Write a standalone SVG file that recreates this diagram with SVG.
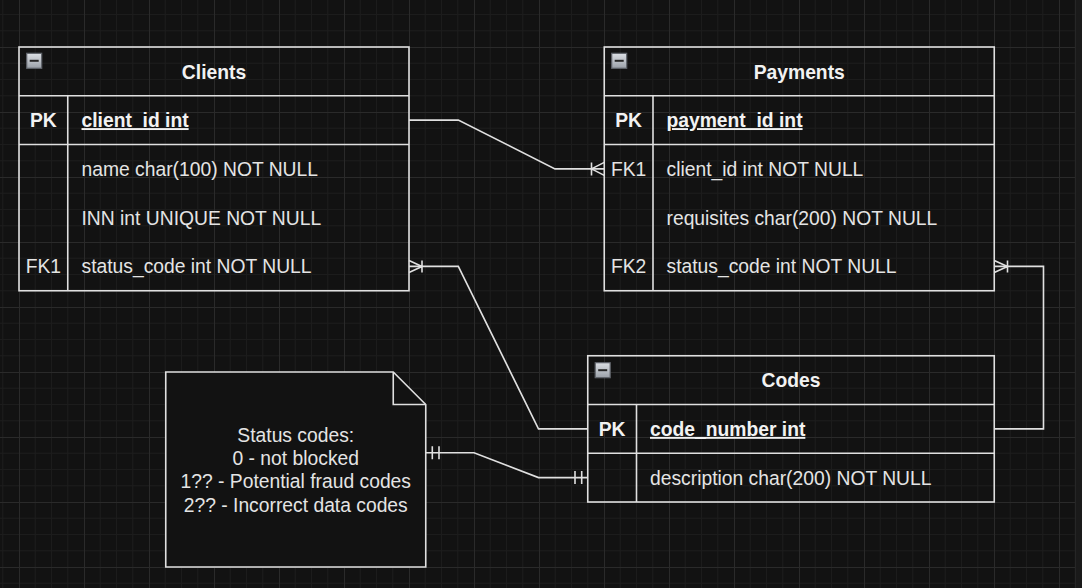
<svg xmlns="http://www.w3.org/2000/svg" width="1082" height="588" viewBox="0 0 1082 588">
<defs>
<pattern id="grid" patternUnits="userSpaceOnUse" x="19" y="47" width="65" height="65">
<rect width="65" height="65" fill="#121212"/>
<path d="M16.25,0V65M32.5,0V65M48.75,0V65M0,16.25H65M0,32.5H65M0,48.75H65" stroke="#1c1c1c" stroke-width="1"/>
<path d="M0.5,0V65M0,0.5H65" stroke="#2a2a2a" stroke-width="1"/>
</pattern>
<linearGradient id="ig" x1="0" y1="0" x2="0" y2="1">
<stop offset="0" stop-color="#dcdfe4"/>
<stop offset="1" stop-color="#9aa0a8"/>
</linearGradient>
<g id="icon">
<rect x="0" y="0" width="15" height="15" fill="url(#ig)" stroke="#5f636a" stroke-width="1.2"/>
<line x1="3" y1="7.5" x2="12" y2="7.5" stroke="#262626" stroke-width="2"/>
</g>
</defs>
<style>
.box{fill:none;stroke:#e0e0e0;stroke-width:1.6}
.ln{fill:none;stroke:#e0e0e0;stroke-width:1.6}
.t{font-family:"Liberation Sans",Arial,sans-serif;font-size:19.3px;fill:#e4e4e4}
.b{font-weight:bold;fill:#f2f2f2}
.c{text-anchor:middle}
.u{text-decoration:underline}
</style>
<rect width="1082" height="588" fill="url(#grid)"/>
<rect x="1075" y="0" width="7" height="588" fill="#1a1a1a"/>
<line x1="1075.5" y1="0" x2="1075.5" y2="588" stroke="#262626"/>

<g id="connectors">
<path class="ln" d="M409,120.1H458.3L555,168.9H604.25"/>
<path class="ln" d="M591.5,162.4V175.4M591.5,168.9L604.25,162.4M591.5,168.9L604.25,175.4"/>
<path class="ln" d="M409,266.4H458.3L538.5,428.9H587.75"/>
<path class="ln" d="M422,260.4V272.4M422,266.4L409,260.4M422,266.4L409,272.4"/>
<path class="ln" d="M994.25,266.4H1043.5V428.9H994.25"/>
<path class="ln" d="M1007.5,260.4V272.4M1007.5,266.4L994.25,260.4M1007.5,266.4L994.25,272.4"/>
<path class="ln" d="M425.75,452.7H474L538.5,477.6H587.75"/>
<path class="ln" d="M432.3,446.2V459.2M439,446.2V459.2M575,471.1V484.1M581.7,471.1V484.1"/>
</g>

<g id="clients">
<rect class="box" x="19" y="47" width="390" height="243.75"/>
<line class="ln" x1="19" y1="95.75" x2="409" y2="95.75"/>
<line class="ln" x1="19" y1="144.5" x2="409" y2="144.5"/>
<line class="ln" x1="67.75" y1="95.75" x2="67.75" y2="290.75"/>
<use href="#icon" x="26.7" y="53.3"/>
<text class="t b c" x="214" y="78.5">Clients</text>
<text class="t b c" x="43.4" y="127.1">PK</text>
<text class="t b u" x="81.5" y="127.1">client_id int</text>
<text class="t" x="81.5" y="175.9">name char(100) NOT NULL</text>
<text class="t" x="81.5" y="224.6">INN int UNIQUE NOT NULL</text>
<text class="t c" x="43.4" y="273.4">FK1</text>
<text class="t" x="81.5" y="273.4">status_code int NOT NULL</text>
</g>

<g id="payments">
<rect class="box" x="604.25" y="47" width="390" height="243.75"/>
<line class="ln" x1="604.25" y1="95.75" x2="994.25" y2="95.75"/>
<line class="ln" x1="604.25" y1="144.5" x2="994.25" y2="144.5"/>
<line class="ln" x1="653" y1="95.75" x2="653" y2="290.75"/>
<use href="#icon" x="611.7" y="53.3"/>
<text class="t b c" x="799.25" y="78.5">Payments</text>
<text class="t b c" x="628.6" y="127.1">PK</text>
<text class="t b u" x="666.5" y="127.1">payment_id int</text>
<text class="t c" x="628.6" y="175.9">FK1</text>
<text class="t" x="666.5" y="175.9">client_id int NOT NULL</text>
<text class="t" x="666.5" y="224.6">requisites char(200) NOT NULL</text>
<text class="t c" x="628.6" y="273.4">FK2</text>
<text class="t" x="666.5" y="273.4">status_code int NOT NULL</text>
</g>

<g id="codes">
<rect class="box" x="587.75" y="355.75" width="406.5" height="146.25"/>
<line class="ln" x1="587.75" y1="404.5" x2="994.25" y2="404.5"/>
<line class="ln" x1="587.75" y1="453.25" x2="994.25" y2="453.25"/>
<line class="ln" x1="636.5" y1="404.5" x2="636.5" y2="502"/>
<use href="#icon" x="595.2" y="362.7"/>
<text class="t b c" x="791" y="387.2">Codes</text>
<text class="t b c" x="612.1" y="435.9">PK</text>
<text class="t b u" x="650" y="435.9">code_number int</text>
<text class="t" x="650" y="484.6">description char(200) NOT NULL</text>
</g>

<g id="note">
<path d="M165.75,372H393.25L425.75,404.5V567H165.75Z" fill="#121212" stroke="#e0e0e0" stroke-width="1.6"/>
<path class="ln" d="M393.25,372V404.5H425.75"/>
<text class="t c" x="295.75" y="442">Status codes:</text>
<text class="t c" x="295.75" y="465">0 - not blocked</text>
<text class="t c" x="295.75" y="488.3">1?? - Potential fraud codes</text>
<text class="t c" x="295.75" y="511.5">2?? - Incorrect data codes</text>
</g>
</svg>
